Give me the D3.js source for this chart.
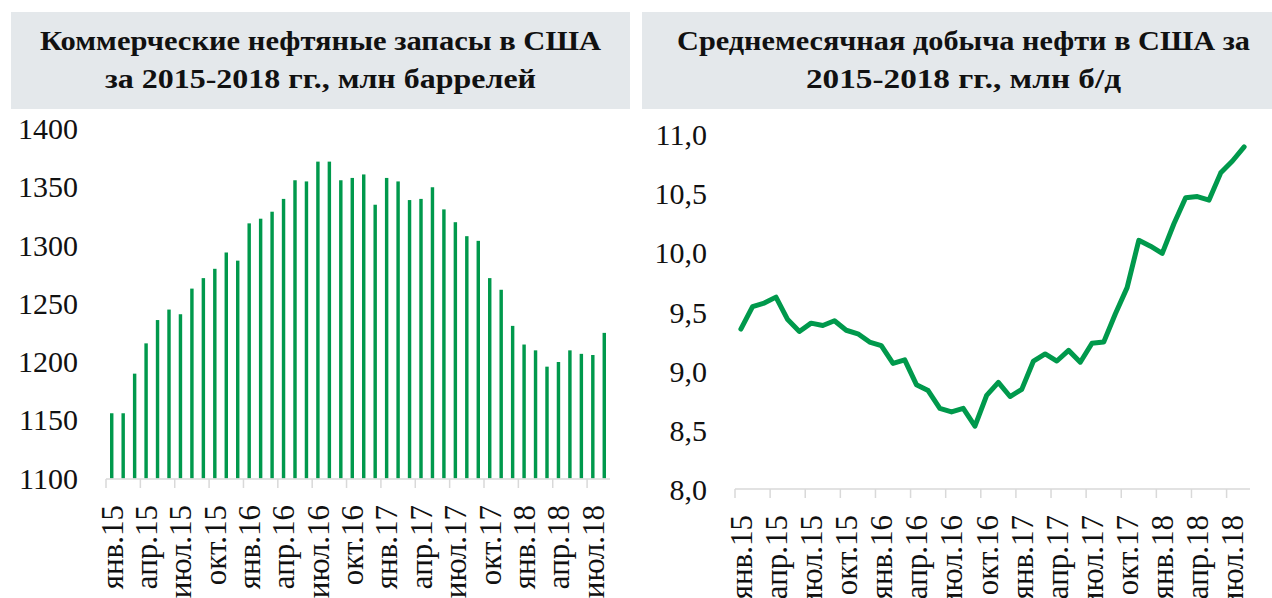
<!DOCTYPE html>
<html>
<head>
<meta charset="utf-8">
<script src="https://cdn.jsdelivr.net/npm/d3@7"></script>
<style>
  body { margin: 0; background: #fff; }
</style>
</head>
<body>
<svg id="chart" width="1272" height="598"></svg>
<script>
// месяцы и годы для категорий
const months = ['янв', 'фев', 'мар', 'апр', 'май', 'июн', 'июл', 'авг', 'сен', 'окт', 'ноя', 'дек'];
const years = ['15', '16', '17', '18'];
const categories = [];
years.forEach(y => months.forEach(m => { if (categories.length < 44) categories.push(m + '.' + y); }));

// подписи оси X (каждый третий месяц)
const tickLabels = ['янв.15', 'апр.15', 'июл.15', 'окт.15', 'янв.16', 'апр.16', 'июл.16', 'окт.16',
  'янв.17', 'апр.17', 'июл.17', 'окт.17', 'янв.18', 'апр.18', 'июл.18'];

// коммерческие запасы, млн баррелей
const stocks = [1156, 1156, 1190, 1216, 1236, 1245, 1241, 1263, 1272, 1280,
  1294, 1287, 1319, 1323, 1329, 1340, 1356, 1355, 1372, 1372,
  1356, 1358, 1361, 1335, 1358, 1355, 1339, 1340, 1350, 1331,
  1320, 1308, 1304, 1272, 1262, 1231, 1215, 1210, 1196, 1200,
  1210, 1207, 1206, 1225];

// добыча нефти, млн б/д
const production = [9.36, 9.55, 9.58, 9.63, 9.44, 9.34, 9.41, 9.39, 9.43, 9.35,
  9.32, 9.25, 9.22, 9.07, 9.10, 8.89, 8.84, 8.69, 8.66, 8.69,
  8.54, 8.80, 8.91, 8.79, 8.85, 9.09, 9.15, 9.09, 9.18, 9.08,
  9.24, 9.25, 9.49, 9.71, 10.11, 10.06, 10.00, 10.25, 10.47, 10.48,
  10.45, 10.68, 10.78, 10.90];

const stockTicks = [1100, 1150, 1200, 1250, 1300, 1350, 1400];
const prodTicks = [8, 8.5, 9, 9.5, 10, 10.5, 11];

const green = '#00994c';
const serif = "'Liberation Serif', 'DejaVu Serif', serif";
const svg = d3.select('#chart');

// заголовки
function drawTitle(x0, x1, cx, lines) {
  svg.append('rect')
    .attr('x', x0).attr('y', 12)
    .attr('width', x1 - x0).attr('height', 97)
    .attr('fill', '#e4e8eb');
  lines.forEach((l, i) => {
    svg.append('text')
      .attr('x', cx).attr('y', 50 + i * 38)
      .attr('text-anchor', 'middle')
      .style('font-family', serif)
      .style('font-size', '27px')
      .style('font-weight', 'bold')
      .attr('fill', '#111')
      .attr('textLength', l.w)
      .attr('lengthAdjust', 'spacingAndGlyphs')
      .text(l.t);
  });
}
drawTitle(11, 630, 320.5, [
  { t: 'Коммерческие нефтяные запасы в США', w: 561 },
  { t: 'за 2015-2018 гг., млн баррелей', w: 431 }
]);
drawTitle(642, 1272, 963.5, [
  { t: 'Среднемесячная добыча нефти в США за', w: 573 },
  { t: '2015-2018 гг., млн б/д', w: 315 }
]);

// ось X с метками на границах категорий
function drawXAxis(x, yPos) {
  const g = svg.append('g').attr('transform', `translate(0,${yPos})`);
  g.call(d3.axisBottom(x)
      .tickValues(categories.filter((c, i) => i % 3 === 0))
      .tickFormat((c) => tickLabels[categories.indexOf(c) / 3])
      .tickSize(0));
  g.select('.domain').remove();
  g.selectAll('text')
    .style('font-family', serif)
    .style('font-size', '31px')
    .attr('fill', '#111')
    .attr('transform', 'rotate(-90)')
    .attr('x', -26).attr('y', 0)
    .attr('dy', '0.35em')
    .style('text-anchor', 'end');

  const [r0, r1] = x.range();
  g.append('line')
    .attr('x1', r0).attr('x2', r1)
    .attr('stroke', '#d9d9d9').attr('stroke-width', 1.5);
  g.selectAll('.bound')
    .data(categories.filter((c, i) => i % 3 === 0))
    .enter()
    .append('line')
    .attr('class', 'bound')
    .attr('x1', (c) => r0 + categories.indexOf(c) * x.step())
    .attr('x2', (c) => r0 + categories.indexOf(c) * x.step())
    .attr('y1', 0).attr('y2', 9)
    .attr('stroke', '#d9d9d9').attr('stroke-width', 1.5);
}

function drawYAxis(y, xPos, ticks, fmt) {
  const g = svg.append('g').attr('transform', `translate(${xPos},0)`);
  g.call(d3.axisLeft(y).tickValues(ticks).tickFormat(fmt).tickSize(0).tickPadding(0));
  g.select('.domain').remove();
  g.selectAll('text')
    .style('font-family', serif)
    .style('font-size', '30px')
    .attr('fill', '#111');
}

// левый график: столбцы
const x1 = d3.scaleBand().domain(categories).range([106, 610]).paddingInner(0.7).paddingOuter(0.35);
const y1 = d3.scaleLinear().domain([1100, 1400]).range([478.5, 129]);

svg.append('g')
  .attr('class', 'bars')
  .selectAll('rect')
  .data(stocks)
  .enter()
  .append('rect')
  .attr('x', (d, i) => x1(categories[i]))
  .attr('width', x1.bandwidth())
  .attr('y', (d) => y1(d))
  .attr('height', (d) => y1(1100) - y1(d))
  .attr('fill', green);

drawXAxis(x1, 479);
drawYAxis(y1, 78, stockTicks, d3.format('d'));

// правый график: линия
const x2 = d3.scaleBand().domain(categories).range([735, 1250]);
const y2 = d3.scaleLinear().domain([8, 11]).range([490, 135]);

const line = d3.line()
  .x((d, i) => x2(categories[i]) + x2.bandwidth() / 2)
  .y((d) => y2(d));

svg.append('path')
  .datum(production)
  .attr('d', line)
  .attr('fill', 'none')
  .attr('stroke', green)
  .attr('stroke-width', 5)
  .attr('stroke-linejoin', 'round')
  .attr('stroke-linecap', 'round');

drawXAxis(x2, 489);
drawYAxis(y2, 707, prodTicks, (v) => d3.format('.1f')(v).replace('.', ','));
</script>
</body>
</html>
